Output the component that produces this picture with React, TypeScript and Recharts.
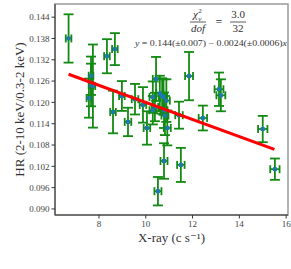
import React from "react";
import {
  ScatterChart,
  Scatter,
  XAxis,
  YAxis,
  ErrorBar,
  ReferenceArea,
} from "recharts";

// X-ray count rate vs hardness ratio
const rates = [
  6.7, 7.66, 7.57, 7.66, 7.74, 8.34, 8.68, 8.6, 8.98, 9.24, 9.54, 9.88,
  10.05, 10.3, 10.44, 10.39, 10.3, 10.7, 10.76, 10.78, 10.82, 10.92, 10.78,
  10.52, 11.42, 11.5, 11.85, 12.44, 13.13, 13.21, 15.0, 15.52, 10.6, 10.88,
];
const hr = [
  0.138, 0.1275, 0.1212, 0.1249, 0.1246, 0.133, 0.135, 0.1173, 0.1218,
  0.1145, 0.1209, 0.1193, 0.1128, 0.1215, 0.1266, 0.1187, 0.1178, 0.1218,
  0.1215, 0.1178, 0.1163, 0.1128, 0.1035, 0.095, 0.1164, 0.1024, 0.1274,
  0.1156, 0.1237, 0.122, 0.1125, 0.1012, 0.1225, 0.1205,
];
const hrErr = [
  0.0068, 0.0054, 0.0055, 0.006, 0.0117, 0.0048, 0.0045, 0.006, 0.0042,
  0.004, 0.0043, 0.005, 0.0047, 0.0044, 0.0062, 0.004, 0.004, 0.005, 0.005,
  0.005, 0.0055, 0.0049, 0.005, 0.004, 0.0038, 0.0048, 0.0068, 0.0035,
  0.0047, 0.0045, 0.0037, 0.003, 0.005, 0.006,
];
const rateErr = [
  0.12, 0.1, 0.1, 0.1, 0.1, 0.12, 0.12, 0.12, 0.12, 0.14, 0.14, 0.14, 0.14,
  0.14, 0.14, 0.14, 0.14, 0.15, 0.15, 0.15, 0.15, 0.15, 0.15, 0.15, 0.16,
  0.16, 0.17, 0.18, 0.19, 0.19, 0.2, 0.2, 0.15, 0.15,
];

const xTicks = [8, 10, 12, 14, 16];
const yTicks = [0.09, 0.096, 0.102, 0.108, 0.114, 0.12, 0.126, 0.132, 0.138, 0.144];

// linear fit y = a + b x
const fitA = 0.144;
const fitB = -0.0024;
const fitRange = [6.7, 15.5];

const X_DOM: [number, number] = [6.12, 16.08];
const Y_DOM: [number, number] = [0.0883, 0.1477];

const serif = "'Liberation Serif', 'DejaVu Serif', serif";

const points = rates.map((x, i) => ({
  x,
  y: hr[i],
  ey: hrErr[i],
  ex: rateErr[i],
}));
const fit = fitRange.map(x => ({ x, y: fitA + fitB * x }));

const Dot = (p: any) => (
  <rect x={p.cx - 2} y={p.cy - 2} width={4} height={4} fill="#1f77b4" />
);

export default function App() {
  return (
    <div style={{ position: "absolute", left: 0, top: 0, width: 291, height: 269 }}>
      <ScatterChart
        width={291}
        height={269}
        margin={{ top: 4, right: 3, bottom: 0, left: 0 }}
      >
        <ReferenceArea
          x1={X_DOM[0]}
          x2={X_DOM[1]}
          y1={Y_DOM[0]}
          y2={Y_DOM[1]}
          fill="none"
          stroke="#999"
          strokeWidth={1.5}
          ifOverflow="visible"
        />
        <XAxis
          type="number"
          dataKey="x"
          domain={X_DOM}
          ticks={xTicks}
          allowDataOverflow
          height={54}
          stroke="#333"
          tickSize={3.5}
          tick={{ fontSize: 9, fontFamily: serif, fill: "#444" }}
          label={{
            value: "X-ray (c s\u207B\u00B9)",
            position: "insideTop",
            offset: 18,
            fontSize: 13,
            fontFamily: serif,
            fill: "#333",
          }}
        />
        <YAxis
          type="number"
          dataKey="y"
          domain={Y_DOM}
          ticks={yTicks}
          allowDataOverflow
          width={55}
          stroke="#333"
          tickSize={3.5}
          tickFormatter={(v: number) => v.toFixed(3)}
          tick={{ fontSize: 9, fontFamily: serif, fill: "#444" }}
          label={{
            value: "HR (2-10 keV/0.3-2 keV)",
            angle: -90,
            position: "insideLeft",
            offset: 19,
            style: { textAnchor: "middle" },
            fontSize: 13,
            fontFamily: serif,
            fill: "#333",
          }}
        />
        <Scatter data={points} shape={Dot} isAnimationActive={false}>
          <ErrorBar dataKey="ey" direction="y" width={5} stroke="#138a13" strokeWidth={1.8} />
          <ErrorBar dataKey="ex" direction="x" width={4} stroke="#138a13" strokeWidth={1.8} />
        </Scatter>
        <Scatter
          data={fit}
          line={{ stroke: "#ff0000", strokeWidth: 3 }}
          shape={() => null}
          isAnimationActive={false}
        />
      </ScatterChart>
      <svg
        width={291}
        height={269}
        style={{ position: "absolute", left: 0, top: 0, pointerEvents: "none" }}
        fontFamily={serif}
        fill="#333"
      >
        <text x={193} y={18} fontSize={11} fontStyle="italic">
          χ
          <tspan fontSize={7} fontStyle="normal" dx={0.5} dy={-5}>2</tspan>
          <tspan fontSize={7} dx={-3.5} dy={8}>ν</tspan>
        </text>
        <line x1={190} x2={206} y1={22} y2={22} stroke="#333" strokeWidth={0.8} />
        <text x={198} y={32} fontSize={11} fontStyle="italic" textAnchor="middle">dof</text>
        <text x={219} y={26} fontSize={12} textAnchor="middle">=</text>
        <text x={238} y={18} fontSize={11} textAnchor="middle">3.0</text>
        <line x1={230} x2={246} y1={22} y2={22} stroke="#333" strokeWidth={0.8} />
        <text x={238} y={32} fontSize={11} textAnchor="middle">32</text>
        <text
          x={135}
          y={46}
          fontSize={8}
          textLength={152}
          lengthAdjust="spacingAndGlyphs"
        >
          <tspan fontStyle="italic">y</tspan> = 0.144(±0.007) − 0.0024(±0.0006)
          <tspan fontStyle="italic">x</tspan>
        </text>
      </svg>
    </div>
  );
}
